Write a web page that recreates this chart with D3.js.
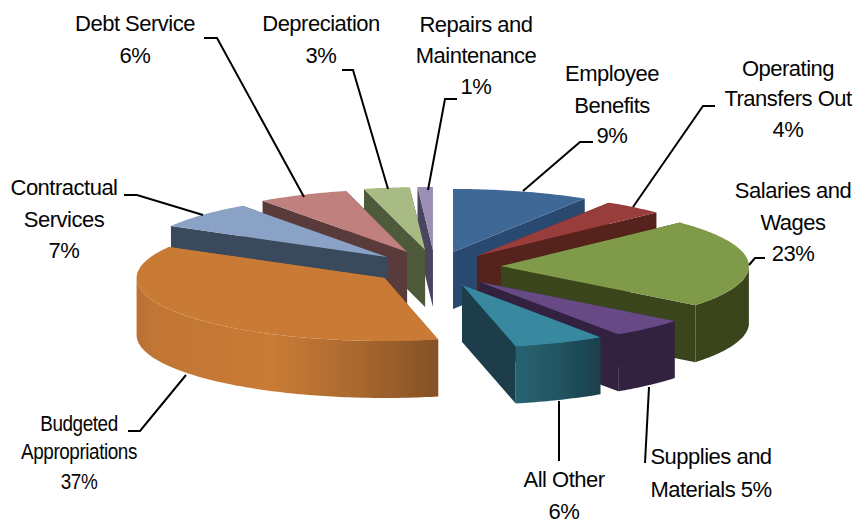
<!DOCTYPE html>
<html>
<head>
<meta charset="utf-8">
<script src="https://cdn.jsdelivr.net/npm/d3@7/dist/d3.min.js"></script>
<style>
html,body{margin:0;padding:0;background:#fff;}
svg{display:block;}
text{font-family:"Liberation Sans",Arial,sans-serif;font-size:22px;letter-spacing:-0.5px;fill:#050505;text-anchor:middle;}
</style>
</head>
<body>
<svg id="chart" width="859" height="523"></svg>
<script>
// --- data, clockwise from 12 o'clock ---
const categories = ["Employee Benefits","Operating Transfers Out","Salaries and Wages","Supplies and Materials","All Other","Budgeted Appropriations","Contractual Services","Debt Service","Depreciation","Repairs and Maintenance"];
const values = [9,4,23,5,6,37,7,6,3,1];

// --- style + layout, per slice ---
const topColors  = ["#3f6797","#983c3a","#7f9a48","#664a85","#37889f","#c97a35","#8aa2c5","#c0807e","#a9bb84","#9c8fb5"];
const wallColors = ["#2a4a70","#54201d","#3a441c","#30243f","#1a3d49","#b87034","#3a4a5c","#5a3a3a","#4f5a3a","#4a4560"];
const explodeX = [.263,.268,.266,.267,.278,.253,.26,.267,.258,.27];
const explodeY = [.248,.225,.3,.325,.31,.293,.238,.263,.273,.27];
const labelLines = [["Employee","Benefits","9%"],["Operating","Transfers Out","4%"],["Salaries and","Wages","23%"],["Supplies and","Materials 5%"],["All Other","6%"],["Budgeted","Appropriations","37%"],["Contractual","Services","7%"],["Debt Service","6%"],["Depreciation","3%"],["Repairs and","Maintenance","1%"]];
const labelX = [612,788,793,711,564,79,64,135,321,476];
const labelStretch = [1,1,1,1,1,.86,1,1,1,1];
const labelBase = [[81,113,143],[76,106,137],[198,230,261],[464,497],[487,519],[431,459,489],[195,227,258],[31,63],[31,63],[32,63,94]];
const leaders = [
  [[593,142],[580,142],[523,191]],
  [[715,106],[703,106],[633,207]],
  [[765,258],[755,258],[749,265]],
  [[649,387],[645,463]],
  [[559,401],[559,461]],
  [[128,431],[140,431],[186,375]],
  [[124,195],[137,195],[203,215]],
  [[204,38],[217,38],[304,197]],
  [[342,70],[353,70],[388,189]],
  [[457,99],[445,99],[428,190]]
];
const cx = 435, cy = 267, rx = 248, ry = 63, depth = 57;

const svg = d3.select("#chart");
const x = d3.scaleLinear().domain([-1,1]).range([cx-rx,cx+rx]);
const y = d3.scaleLinear().domain([-1,1]).range([cy+ry,cy-ry]);
const line = d3.line();
const defs = svg.append("defs");
defs.append("filter").attr("id","soft").attr("x","-5%").attr("y","-5%").attr("width","110%").attr("height","110%")
  .append("feGaussianBlur").attr("stdDeviation",0.45);

function rimGrad(id, x1, x2, stops){
  const g = defs.append("linearGradient").attr("id",id).attr("gradientUnits","userSpaceOnUse")
    .attr("x1",x1).attr("x2",x2).attr("y1",0).attr("y2",0);
  stops.forEach(s=>g.append("stop").attr("offset",s[0]).attr("stop-color",s[1]));
  return "url(#"+id+")";
}
const rimFill = wallColors.slice();
rimFill[5] = rimGrad("gOrange",136,437,[[0,"#b97033"],[.06,"#c17634"],[.45,"#c97b36"],[.72,"#ab692f"],[1,"#855126"]]);
rimFill[4] = rimGrad("gTeal",515,598,[[0,"#27646f"],[.5,"#235563"],[1,"#1a414d"]]);

const pie = d3.pie().value(d=>d).sort(null);
const arcs = pie(values);
const root = svg.append("g").attr("filter","url(#soft)");

// back-to-front: left group from the top, then the right group
const order = [9,8,7,6,5,0,1,2,3,4];
order.forEach(i=>{
  const a = arcs[i], m = (a.startAngle+a.endAngle)/2;
  const ox = explodeX[i]*Math.sin(m), oy = explodeY[i]*Math.cos(m);
  const P = t=>[x(ox+Math.sin(t)), y(oy+Math.cos(t))];
  const sweep = (t0,t1)=>{
    const n = Math.max(4,Math.ceil((t1-t0)*60));
    return d3.range(n+1).map(k=>P(t0+(t1-t0)*k/n));
  };
  const apex = [x(ox), y(oy)];
  const rim = sweep(a.startAngle,a.endAngle);
  const down = p=>[p[0],p[1]+depth];
  const g = root.append("g").attr("class","slice");
  const s = rim[0], e = rim[rim.length-1];
  g.append("path").attr("d",line([apex,s,down(s),down(apex)])+"Z").attr("fill",wallColors[i]);
  g.append("path").attr("d",line([apex,e,down(e),down(apex)])+"Z").attr("fill",wallColors[i]);
  // outer wall: only the camera-facing half of the ellipse
  const f0 = Math.max(a.startAngle,Math.PI/2), f1 = Math.min(a.endAngle,3*Math.PI/2);
  if (f1 > f0) {
    const front = sweep(f0,f1);
    g.append("path").attr("d",line(front.concat(front.slice().reverse().map(down)))+"Z").attr("fill",rimFill[i]);
  }
  g.append("path").attr("d",line([apex].concat(rim))+"Z").attr("fill",topColors[i]);
});

// leaders
svg.append("g").selectAll("path").data(leaders).join("path")
  .attr("d",d=>line(d)).attr("fill","none").attr("stroke","#000").attr("stroke-width",2);

// labels
categories.forEach((c,i)=>{
  labelLines[i].forEach((t,j)=>{
    svg.append("text")
      .attr("transform","translate("+labelX[i]+","+labelBase[i][j]+") scale("+labelStretch[i]+",1)")
      .text(t);
  });
});
</script>
</body>
</html>
